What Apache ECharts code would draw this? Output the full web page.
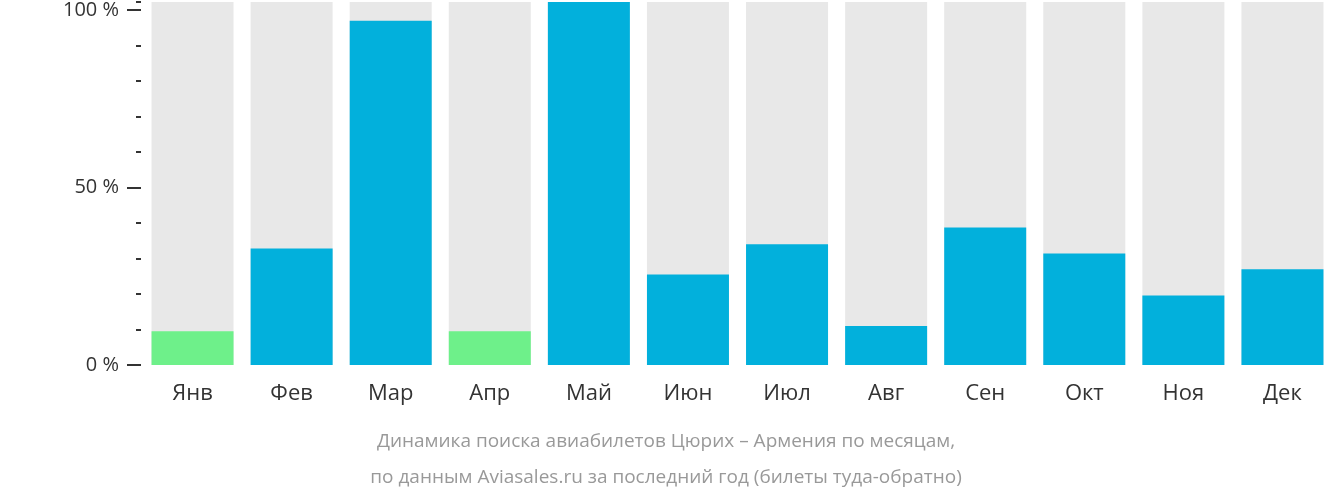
<!DOCTYPE html>
<html><head><meta charset="utf-8">
<script src="https://cdn.jsdelivr.net/npm/echarts@6/dist/echarts.min.js"></script>
<style>html,body{margin:0;padding:0;background:#fff}#c{width:1332px;height:502px}</style>
</head><body><div id="c"></div>
<script>
const categories = ['Янв','Фев','Мар','Апр','Май','Июн','Июл','Авг','Сен','Окт','Ноя','Дек'];
const values = [9.5, 32.8, 97, 9.5, 102.3, 25.5, 34, 11, 38.7, 31.4, 19.6, 27];
const lowMonths = ['Янв','Апр'];
const titleLines = ['Динамика поиска авиабилетов Цюрих – Армения по месяцам,', 'по данным Aviasales.ru за последний год (билеты туда-обратно)'];
const chart = echarts.init(document.getElementById('c'));
const font = 'Open Sans';
chart.setOption({
  animation:false,
  graphic:[
    {type:'text',left:'center',top:432,style:{text:titleLines[0],fill:'#999',font:'19px "Open Sans"'}},
    {type:'text',left:'center',top:468,style:{text:titleLines[1],fill:'#999',font:'19px "Open Sans"'}}
  ],
  grid:{left:143,right:-11,top:0,bottom:137},
  xAxis:{type:'category',data:categories,axisLine:{show:false},axisTick:{show:false},
    axisLabel:{color:'#333',fontSize:22,fontFamily:font,margin:18}},
  yAxis:[
    {type:'value',min:0,max:102.24,interval:50,offset:2,axisLine:{show:false},splitLine:{show:false},
     axisTick:{show:true,length:14,lineStyle:{color:'#333',width:2}},
     axisLabel:{color:'#333',fontSize:20,fontFamily:font,margin:22,formatter:v=>v+' %'}},
    {type:'value',position:'left',min:0,max:102.24,interval:10,offset:2,axisLine:{show:false},splitLine:{show:false},
     axisTick:{show:true,length:5,lineStyle:{color:'#333',width:2}},axisLabel:{show:false}}
  ],
  series:[{type:'bar',barWidth:82,showBackground:true,backgroundStyle:{color:'#e8e8e8'},
    data:values.map((v,i)=>({value:v,itemStyle:{color:lowMonths.includes(categories[i])?'#6ef08a':'#02b0dc'}}))}]
});
</script></body></html>
